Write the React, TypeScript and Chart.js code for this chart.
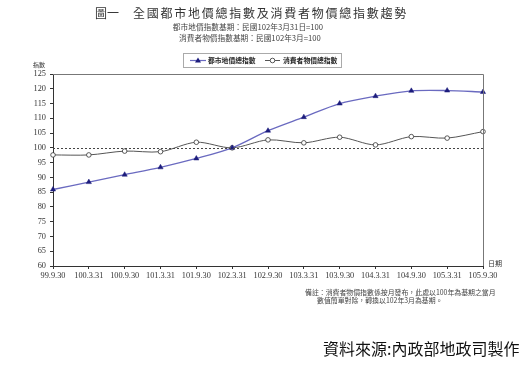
import React, { useEffect, useRef } from "react";
import { Chart, registerables } from "chart.js";

Chart.register(...registerables);

const categories = [
  "99.9.30", "100.3.31", "100.9.30", "101.3.31", "101.9.30", "102.3.31", "102.9.30",
  "103.3.31", "103.9.30", "104.3.31", "104.9.30", "105.3.31", "105.9.30",
];
const landIndex = [85.9, 88.4, 90.9, 93.4, 96.4, 100.0, 105.8, 110.4, 115.0, 117.5, 119.3, 119.4, 118.9];
const cpiIndex = [97.6, 97.6, 98.9, 98.7, 101.9, 100.0, 102.7, 101.7, 103.6, 101.0, 103.8, 103.3, 105.5];
const seriesNames = ["都市地價總指數", "消費者物價總指數"];
const yMin = 60;
const yMax = 125;
const yStep = 5;
const baseValue = 100;

const titleLead = "圖一";
const title = "全國都市地價總指數及消費者物價總指數趨勢";
const subtitle1 = "都市地價指數基期：民國102年3月31日=100";
const subtitle2 = "消費者物價指數基期：民國102年3月=100";
const note1 = "備註：消費者物價指數係按月發布，此處以100年為基期之當月";
const note2 = "數值簡單對除，轉換以102年3月為基期。";
const source = "資料來源:內政部地政司製作";
const yAxisLabel = "指數";
const xAxisLabel = "日期";

const CJK = '"Noto Sans CJK TC", sans-serif';
const SERIF = '"Liberation Serif", "DejaVu Serif", serif';

const LAND_LINE = "#6a6ac0";
const LAND_POINT = "#1c1c7c";
const CPI_LINE = "#555555";

const decor = {
  id: "decor",
  afterDatasetsDraw(chart: any) {
    const { ctx, chartArea } = chart;
    const ys = chart.scales.y;
    ctx.save();
    ctx.strokeStyle = "#777";
    ctx.lineWidth = 1;
    ctx.beginPath();
    ctx.moveTo(chartArea.left, Math.round(chartArea.top) + 0.5);
    ctx.lineTo(Math.round(chartArea.right) + 0.5, Math.round(chartArea.top) + 0.5);
    ctx.lineTo(Math.round(chartArea.right) + 0.5, chartArea.bottom);
    ctx.stroke();
    const yb = Math.round(ys.getPixelForValue(baseValue)) + 0.5;
    ctx.strokeStyle = "#444";
    ctx.setLineDash([2, 2]);
    ctx.beginPath();
    ctx.moveTo(chartArea.left, yb);
    ctx.lineTo(chartArea.right, yb);
    ctx.stroke();
    ctx.setLineDash([]);
    ctx.fillStyle = "#333";
    ctx.font = `6px ${CJK}`;
    ctx.textBaseline = "middle";
    ctx.textAlign = "left";
    ctx.fillText(yAxisLabel, chartArea.left - 20, chartArea.top - 9);
    ctx.font = `7px ${CJK}`;
    ctx.fillText(xAxisLabel, chartArea.right + 5, chartArea.bottom - 3);
    const lx = 183, ly = 53, lw = 158, lh = 14;
    ctx.fillStyle = "#fff";
    ctx.fillRect(lx, ly, lw, lh);
    ctx.strokeStyle = "#aaa";
    ctx.strokeRect(lx + 0.5, ly + 0.5, lw, lh);
    const cy = ly + lh / 2 + 0.5;
    ctx.strokeStyle = LAND_LINE;
    ctx.lineWidth = 1.2;
    ctx.beginPath();
    ctx.moveTo(190, cy);
    ctx.lineTo(206, cy);
    ctx.stroke();
    ctx.fillStyle = LAND_POINT;
    ctx.beginPath();
    ctx.moveTo(198, cy - 3);
    ctx.lineTo(201, cy + 2);
    ctx.lineTo(195, cy + 2);
    ctx.closePath();
    ctx.fill();
    ctx.fillStyle = "#222";
    ctx.font = `bold 6.8px ${CJK}`;
    ctx.fillText(seriesNames[0], 208, cy);
    ctx.strokeStyle = CPI_LINE;
    ctx.lineWidth = 1;
    ctx.beginPath();
    ctx.moveTo(265, cy);
    ctx.lineTo(280, cy);
    ctx.stroke();
    ctx.fillStyle = "#fff";
    ctx.beginPath();
    ctx.arc(272.5, cy, 2.3, 0, Math.PI * 2);
    ctx.fill();
    ctx.stroke();
    ctx.fillStyle = "#222";
    ctx.fillText(seriesNames[1], 283, cy);
    ctx.restore();
  },
};

export default function App() {
  const ref = useRef<HTMLCanvasElement>(null);
  useEffect(() => {
    if (!ref.current) return;
    const chart = new Chart(ref.current, {
      type: "line",
      data: {
        labels: categories,
        datasets: [
          {
            label: seriesNames[0],
            data: landIndex,
            borderColor: LAND_LINE,
            borderWidth: 1.3,
            backgroundColor: LAND_POINT,
            pointStyle: "triangle",
            pointRadius: 3,
            pointBorderColor: LAND_POINT,
            pointBackgroundColor: LAND_POINT,
            pointBorderWidth: 0.5,
            tension: 0.3,
          },
          {
            label: seriesNames[1],
            data: cpiIndex,
            borderColor: CPI_LINE,
            borderWidth: 1,
            pointStyle: "circle",
            pointRadius: 2.3,
            pointBorderColor: "#333",
            pointBackgroundColor: "#fff",
            pointBorderWidth: 0.8,
            tension: 0.3,
          },
        ],
      },
      options: {
        animation: false,
        responsive: false,
        maintainAspectRatio: false,
        layout: { padding: { left: 27, right: 48, top: 74, bottom: 95 } },
        plugins: { legend: { display: false }, tooltip: { enabled: false }, title: { display: false } },
        scales: {
          x: {
            offset: false,
            grid: { display: true, drawOnChartArea: false, tickLength: 3, color: "#333" },
            border: { color: "#333", width: 1 },
            ticks: {
              autoSkip: false,
              maxRotation: 0,
              padding: 2,
              color: "#333",
              font: { family: SERIF, size: 8.3 },
            },
            afterFit: (s: any) => {
              s.height = 23;
            },
          },
          y: {
            min: yMin,
            max: yMax,
            grid: { display: true, drawOnChartArea: false, tickLength: 3, color: "#333" },
            border: { color: "#333", width: 1 },
            ticks: {
              stepSize: yStep,
              padding: 4,
              color: "#333",
              font: { family: SERIF, size: 8.3 },
            },
            afterFit: (s: any) => {
              s.width = 26;
            },
          },
        },
      },
      plugins: [decor],
    });
    return () => chart.destroy();
  }, []);

  const abs = (x: number, y: number, extra: any = {}) => ({
    position: "absolute" as const,
    left: x,
    top: y,
    whiteSpace: "nowrap" as const,
    fontFamily: CJK,
    color: "#222",
    lineHeight: 1,
    ...extra,
  });

  return (
    <div style={{ position: "fixed", left: 0, top: 0, width: 531, height: 384, background: "#fff", overflow: "hidden" }}>
      <canvas ref={ref} width={531} height={384} style={{ position: "absolute", left: 0, top: 0 }} />
      <div style={abs(95, 7, { fontSize: 12, color: "#333" })}>{titleLead}</div>
      <div style={abs(133, 7, { fontSize: 12, letterSpacing: 1.75, color: "#333" })}>{title}</div>
      <div style={abs(0, 22.5, { fontSize: 7.7, width: 496, textAlign: "center", color: "#444" })}>{subtitle1}</div>
      <div style={abs(0, 34, { fontSize: 7.7, width: 500, textAlign: "center", color: "#444" })}>{subtitle2}</div>
      <div style={abs(305, 288.5, { fontSize: 6.9, color: "#444" })}>{note1}</div>
      <div style={abs(317, 297, { fontSize: 6.9, color: "#444" })}>{note2}</div>
      <div style={abs(323, 340, { fontSize: 16, color: "#111" })}>{source}</div>
    </div>
  );
}
